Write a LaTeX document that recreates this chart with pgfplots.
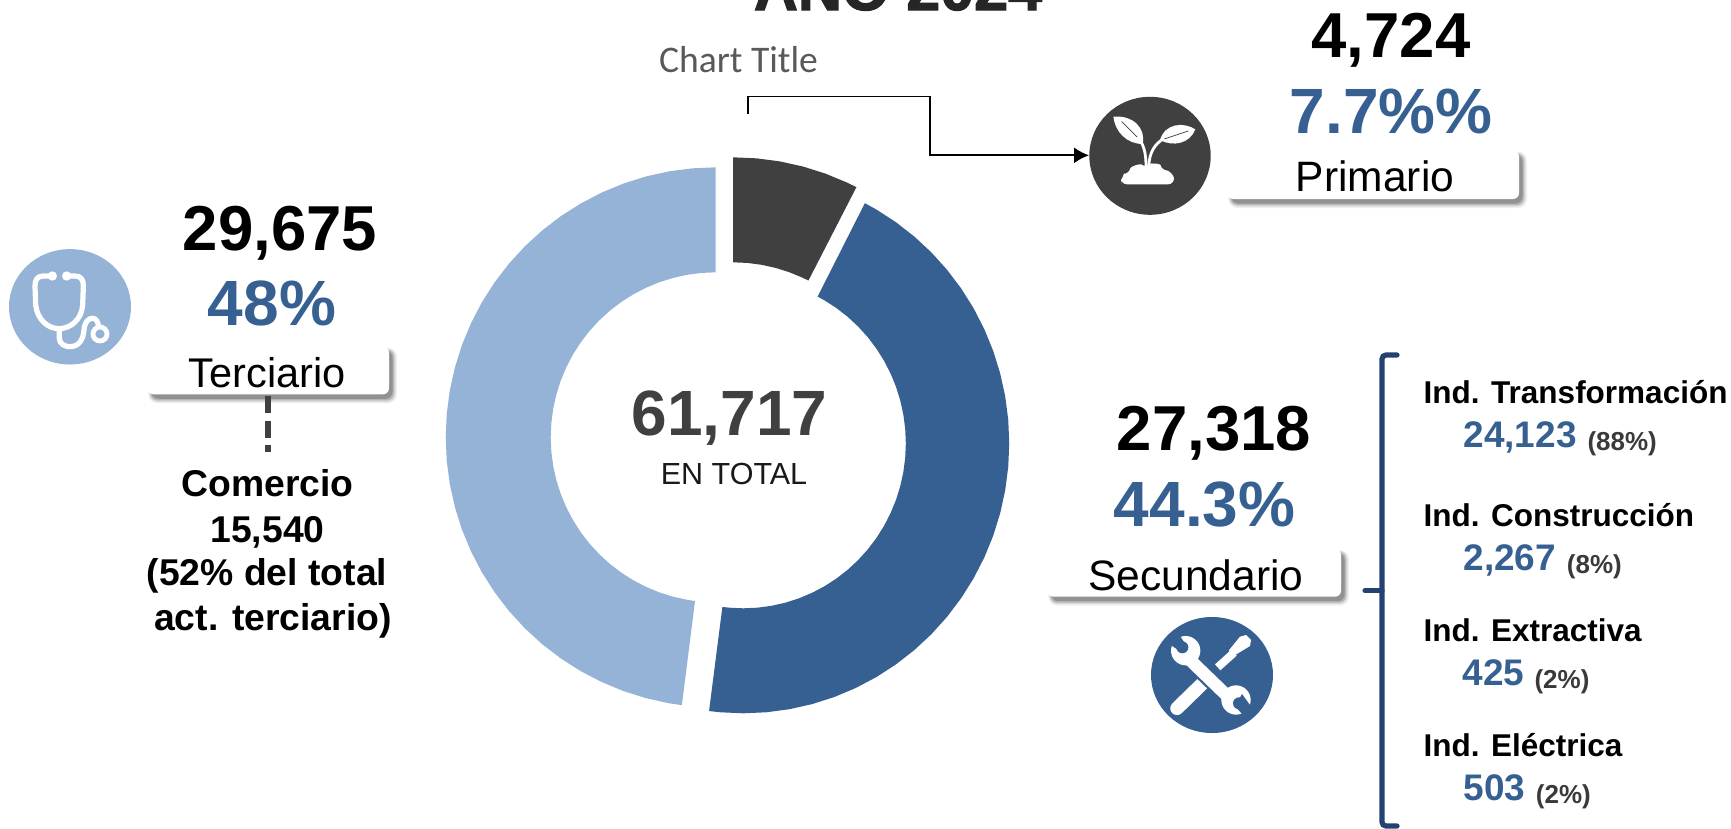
\documentclass[border=0pt]{standalone}
\usepackage{pgfplots}
\usepackage{pgfplotstable}
\usepackage{fontspec}
\usetikzlibrary{arrows.meta}
\pgfplotsset{compat=1.18}
\setmainfont{Liberation Sans}
\newfontfamily\calib{Carlito}
\newfontfamily\heavy[FakeBold=2]{Liberation Sans Bold}
\definecolor{cdark}{HTML}{404040}
\definecolor{cblue}{HTML}{376092}
\definecolor{clight}{HTML}{95B3D7}
\definecolor{cbrack}{HTML}{234272}
\newcommand\fs[1]{\fontsize{#1}{#1}\selectfont}
% polygon outlines of the three ring slices: angle clockwise from the top, radius
\pgfplotstableread[row sep=\\]{a r\\
0 270\\5 270\\10 270\\15 270\\20 270\\25 270\\27.2 270\\
27.2 165\\25 165\\20 165\\15 165\\10 165\\5 165\\0 165\\
}\tdark
\pgfplotstableread[row sep=\\]{a r\\
27.2 270\\30 270\\35 270\\40 270\\45 270\\50 270\\55 270\\60 270\\65 270\\70 270\\75 270\\80 270\\85 270\\90 270\\95 270\\100 270\\105 270\\110 270\\115 270\\120 270\\125 270\\130 270\\135 270\\140 270\\145 270\\150 270\\155 270\\160 270\\165 270\\170 270\\175 270\\180 270\\185 270\\187.4 270\\
187.4 165\\185 165\\180 165\\175 165\\170 165\\165 165\\160 165\\155 165\\150 165\\145 165\\140 165\\135 165\\130 165\\125 165\\120 165\\115 165\\110 165\\105 165\\100 165\\95 165\\90 165\\85 165\\80 165\\75 165\\70 165\\65 165\\60 165\\55 165\\50 165\\45 165\\40 165\\35 165\\30 165\\27.2 165\\
}\tblue
\pgfplotstableread[row sep=\\]{a r\\
187.2 270\\190 270\\195 270\\200 270\\205 270\\210 270\\215 270\\220 270\\225 270\\230 270\\235 270\\240 270\\245 270\\250 270\\255 270\\260 270\\265 270\\270 270\\275 270\\280 270\\285 270\\290 270\\295 270\\300 270\\305 270\\310 270\\315 270\\320 270\\325 270\\330 270\\335 270\\340 270\\345 270\\350 270\\355 270\\360 270\\
360 165\\355 165\\350 165\\345 165\\340 165\\335 165\\330 165\\325 165\\320 165\\315 165\\310 165\\305 165\\300 165\\295 165\\290 165\\285 165\\280 165\\275 165\\270 165\\265 165\\260 165\\255 165\\250 165\\245 165\\240 165\\235 165\\230 165\\225 165\\220 165\\215 165\\210 165\\205 165\\200 165\\195 165\\190 165\\187.2 165\\
}\tlight
\newcommand\lbox[4]{%
  \fill[black,opacity=0.06,rounded corners=9pt] (axis cs:#1+1,#2+1) rectangle (axis cs:#3+8,#4+9);%
  \fill[black,opacity=0.10,rounded corners=8pt] (axis cs:#1+2,#2+2) rectangle (axis cs:#3+6.5,#4+7.5);%
  \fill[black,opacity=0.16,rounded corners=7pt] (axis cs:#1+3,#2+3) rectangle (axis cs:#3+5,#4+6);%
  \fill[black,opacity=0.20,rounded corners=7pt] (axis cs:#1+4,#2+4) rectangle (axis cs:#3+3.5,#4+4.5);%
  \fill[white,rounded corners=6pt] (axis cs:#1,#2) rectangle (axis cs:#3,#4);}
\newcommand\T[5]{\node[anchor=#3,inner sep=0pt,text=#4] at (axis cs:#1,#2) {#5};}
\begin{document}
\begin{tikzpicture}
\useasboundingbox (0,0) rectangle (1731pt,828pt);
\clip (0,0) rectangle (1731pt,828pt);
\begin{axis}[hide axis,scale only axis,width=1731pt,height=828pt,
  xmin=0,xmax=1731,ymin=0,ymax=828,y dir=reverse,clip=false]
\addplot[fill=cdark,draw=none,no marks] table[x expr={733+\thisrow{r}*sin(\thisrow{a})},y expr={427.3-\thisrow{r}*cos(\thisrow{a})}] {\tdark} -- cycle;
\addplot[fill=cblue,draw=none,no marks] table[x expr={743.3+0.985*\thisrow{r}*sin(\thisrow{a})},y expr={443.3-\thisrow{r}*cos(\thisrow{a})}] {\tblue} -- cycle;
\addplot[fill=clight,draw=none,no marks] table[x expr={715.7+\thisrow{r}*sin(\thisrow{a})},y expr={437.3-\thisrow{r}*cos(\thisrow{a})}] {\tlight} -- cycle;
% boxes
\lbox{1227.3}{150.7}{1519}{199}
\lbox{147.3}{346.7}{389}{394.3}
\lbox{1047.3}{549}{1341}{596.7}
% connector
\draw[black,line width=1.8pt,-{Latex[length=15pt,width=16pt]}] (axis cs:748,114) -- (axis cs:748,96.5) -- (axis cs:929.7,96.5) -- (axis cs:929.7,155.3) -- (axis cs:1089,155.3);
% dashes
\draw[cdark,line width=6pt,dash pattern=on 17pt off 7.5pt] (axis cs:268,396) -- (axis cs:268,452);
% bracket
\draw[cbrack,line width=5.2pt,rounded corners=4pt,line cap=round] (axis cs:1397,355) -- (axis cs:1382,355) -- (axis cs:1382,826) -- (axis cs:1397,826);
\draw[cbrack,line width=5.2pt,line cap=round] (axis cs:1365,590.7) -- (axis cs:1382,590.7);
% circles
\fill[cdark] (axis cs:1150,155.8) ellipse [x radius=60.7pt,y radius=59pt];
\fill[clight] (axis cs:70,306.8) ellipse [x radius=61pt,y radius=57.7pt];
\fill[cblue] (axis cs:1212,675) ellipse [x radius=61pt,y radius=58pt];
% text
\T{898}{10}{base}{black!85}{\heavy\fs{61}AÑO 2024}
\T{738.5}{72}{base}{black!65}{\calib\fs{37.6}Chart Title}
\T{1391}{57.3}{base}{black}{\bfseries\fs{63.5}4,724}
\T{1391}{133.3}{base}{cblue}{\bfseries\fs{64}7.7\%\%}
\T{1375}{191.7}{base}{black}{\fs{42.5}Primario}
\T{280}{250}{base}{black}{\bfseries\fs{63.5}29,675}
\T{272}{325.7}{base}{cblue}{\bfseries\fs{64}48\%}
\T{267}{387.3}{base}{black}{\fs{41.5}Terciario}
\T{267.5}{496.5}{base}{black}{\bfseries\fs{37.3}Comercio}
\T{267.5}{542.5}{base}{black}{\bfseries\fs{37.3}15,540}
\T{267}{585.5}{base}{black}{\bfseries\fs{37.3}(52\% del total}
\T{273}{630.5}{base}{black}{\bfseries\fs{37.3}act. terciario)}
\T{729.5}{435}{base}{cdark}{\bfseries\fs{64}61,717}
\T{734}{484.6}{base}{black!90}{\fs{30.5}EN TOTAL}
\T{1214}{450}{base}{black}{\bfseries\fs{63.5}27,318}
\T{1204.6}{526.6}{base}{cblue}{\bfseries\fs{64}44.3\%}
\T{1196}{590.7}{base}{black}{\fs{42.5}Secundario}
\T{1423.3}{403.3}{base west}{black}{\bfseries\fs{31.5}Ind. Transformación}
\T{1463.3}{447.3}{base west}{cblue}{\bfseries\fs{37}24,123}
\T{1587.3}{450}{base west}{cdark!90!black}{\bfseries\fs{26}(88\%)}
\T{1423.3}{526.7}{base west}{black}{\bfseries\fs{31.5}Ind. Construcción}
\T{1463.3}{570.7}{base west}{cblue}{\bfseries\fs{37}2,267}
\T{1566.7}{573}{base west}{cdark!90!black}{\bfseries\fs{26}(8\%)}
\T{1423.3}{641.7}{base west}{black}{\bfseries\fs{31.5}Ind. Extractiva}
\T{1462.3}{685.7}{base west}{cblue}{\bfseries\fs{37}425}
\T{1534.3}{688.3}{base west}{cdark!90!black}{\bfseries\fs{26}(2\%)}
\T{1423.3}{756.7}{base west}{black}{\bfseries\fs{31.5}Ind. Eléctrica}
\T{1463.3}{800.7}{base west}{cblue}{\bfseries\fs{37}503}
\T{1535.7}{803.3}{base west}{cdark!90!black}{\bfseries\fs{26}(2\%)}
\end{axis}
% plant icon
\begin{scope}[shift={(1060pt,828pt)},x=.33333pt,y=-.33333pt,white]
\fill (160,350) .. controls (220,345) and (258,385) .. (248,432) .. controls (200,432) and (165,395) .. cycle;
\draw[cdark,line width=.7pt] (185,365) -- (245,425);
\fill (406,388) .. controls (370,365) and (315,370) .. (300,420) .. controls (340,442) and (390,430) .. cycle;
\draw[cdark,line width=.7pt] (310,418) -- (385,393);
\draw[line width=2.8pt] (258,500) .. controls (258,455) and (250,430) .. (232,412);
\draw[line width=2.8pt] (266,500) .. controls (268,455) and (285,432) .. (312,415);
\fill[rounded corners=6pt] (183,553) -- (183,535) .. controls (190,525) and (200,522) .. (208,522) .. controls (212,500) and (240,490) .. (258,505) .. controls (270,490) and (300,490) .. (305,512) .. controls (325,512) and (342,525) .. (342,553) -- cycle;
\end{scope}
% stethoscope icon
\begin{scope}[shift={(0pt,638pt)},x=.33333pt,y=-.33333pt,white]
\draw[line width=5.2pt] (157,258) -- (130,258) .. controls (112,258) and (104,270) .. (105,290) -- (107,345) .. controls (112,390) and (145,416) .. (177,416) .. controls (210,416) and (245,390) .. (248,345) -- (250,290) .. controls (251,270) and (243,258) .. (225,258) -- (200,258);
\fill (157,258) circle (14);
\fill (200,258) circle (14);
\draw[line width=5.2pt] (178,416) -- (178,445) .. controls (178,462) and (195,470) .. (210,470) .. controls (235,470) and (250,450) .. (252,420) .. controls (254,395) and (265,385) .. (278,385) .. controls (288,385) and (294,395) .. (296,410);
\draw[line width=4.8pt] (300,432) circle (21);
\end{scope}
% tools icon
\begin{scope}[shift={(1030pt,288pt)},x=.33333pt,y=-.33333pt,white]
\draw[line width=13.5pt,line cap=round] (441,505) -- (525,423);
\draw[line width=8pt] (563,382) -- (612,338);
\fill (596,332) -- (614,346) -- (660,318) -- (663,300) -- (648,285) -- (630,290) -- cycle;
\draw[cblue,line width=17pt] (482,362) -- (592,468);
\draw[line width=12.5pt] (478,358) -- (596,472);
\fill (467,332) circle (44);
\fill (618,480) circle (44);
\fill[cblue] (447,332) -- (424,316) -- (412,290) -- (440,276) -- (450,288) -- (466,312) -- cycle;
\fill[cblue] (457,322) circle (18);
\fill[cblue] (636,462) -- (662,498) -- (680,520) -- (650,540) -- (636,522) -- (615,498) -- cycle;
\fill[cblue] (627,490) circle (18);
\end{scope}
\end{tikzpicture}
\end{document}
